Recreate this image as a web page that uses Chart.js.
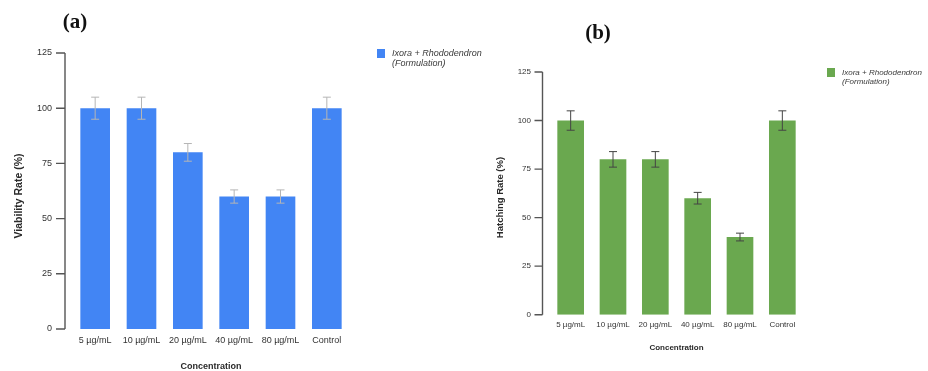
<!DOCTYPE html>
<html>
<head>
<meta charset="utf-8">
<script src="https://cdn.jsdelivr.net/npm/chart.js@4.4.1/dist/chart.umd.min.js"></script>
<style>
  html, body { margin: 0; padding: 0; background: #fff; }
  #wrap { position: relative; width: 928px; height: 371px; overflow: hidden; }
  canvas { position: absolute; top: 0; }
</style>
</head>
<body>
<div id="wrap">
  <canvas id="chartA" width="500" height="371" style="left:0"></canvas>
  <canvas id="chartB" width="458" height="371" style="left:470px"></canvas>
</div>
<script>
// ===== Data =====
const categories = ['5 µg/mL', '10 µg/mL', '20 µg/mL', '40 µg/mL', '80 µg/mL', 'Control'];
const viability = [100, 100, 80, 60, 60, 100];
const viabilityErr = [5, 5, 4, 3, 3, 5];
const hatching = [100, 80, 80, 60, 40, 100];
const hatchingErr = [5, 4, 4, 3, 2, 5];
const yTicks = [0, 25, 50, 75, 100, 125];
const legendLines = ['Ixora + Rhododendron', '(Formulation)'];

// axis line, tick marks, error bars, panel titles, legend
const decor = {
  id: 'decor',
  afterDatasetsDraw(chart, args, o) {
    const { ctx, chartArea } = chart;
    const y = chart.scales.y;
    const meta = chart.getDatasetMeta(0);
    const data = chart.data.datasets[0].data;
    ctx.save();

    // error bars
    ctx.strokeStyle = o.errColor;
    ctx.lineWidth = 1;
    meta.data.forEach((bar, i) => {
      const yt = y.getPixelForValue(data[i] + o.err[i]);
      const yb = y.getPixelForValue(data[i] - o.err[i]);
      ctx.beginPath();
      ctx.moveTo(bar.x, yt); ctx.lineTo(bar.x, yb);
      ctx.moveTo(bar.x - o.cap, yt); ctx.lineTo(bar.x + o.cap, yt);
      ctx.moveTo(bar.x - o.cap, yb); ctx.lineTo(bar.x + o.cap, yb);
      ctx.stroke();
    });

    // y axis line, set off from the plot
    const ax = chartArea.left - o.gap;
    ctx.strokeStyle = '#555';
    ctx.lineWidth = 1.4;
    ctx.beginPath();
    ctx.moveTo(ax, y.getPixelForValue(y.max));
    ctx.lineTo(ax, y.getPixelForValue(y.min));
    y.ticks.forEach(t => {
      const py = y.getPixelForValue(t.value);
      ctx.moveTo(ax - o.tick, py);
      ctx.lineTo(ax, py);
    });
    ctx.stroke();

    // panel label
    ctx.fillStyle = '#111';
    ctx.textAlign = 'center';
    ctx.textBaseline = 'middle';
    ctx.font = 'bold ' + o.panelSize + 'px "Liberation Serif"';
    ctx.fillText(o.panel, o.panelX, o.panelY);

    // axis titles
    ctx.fillStyle = '#2a2a2a';
    ctx.font = 'bold ' + o.fs + 'px "Liberation Sans"';
    ctx.fillText('Concentration', (chartArea.left + chartArea.right) / 2, o.xTitleY);
    ctx.save();
    ctx.translate(o.yTitleX, o.yTitleY);
    ctx.rotate(-Math.PI / 2);
    ctx.font = 'bold ' + o.yTitleSize + 'px "Liberation Sans"';
    ctx.fillText(o.yTitle, 0, 0);
    ctx.restore();

    // legend
    ctx.fillStyle = chart.data.datasets[0].backgroundColor;
    ctx.fillRect(o.legX, o.legY, o.legBox, o.legBox + 1);
    ctx.fillStyle = '#3a3a3a';
    ctx.textAlign = 'left';
    ctx.font = 'italic ' + o.fs + 'px "Liberation Sans"';
    legendLines.forEach((t, i) => {
      ctx.fillText(t, o.legX + o.legBox + 7, o.legY + 4.5 + i * o.fs * 1.1);
    });
    ctx.restore();
  }
};

function makeChart(id, values, color, pad, yWidth, xHeight, fs, tickPad, xPad, barPct, deco) {
  return new Chart(document.getElementById(id).getContext('2d'), {
    type: 'bar',
    data: {
      labels: categories,
      datasets: [{
        label: legendLines.join(' '),
        data: values,
        backgroundColor: color,
        categoryPercentage: 1,
        barPercentage: barPct
      }]
    },
    options: {
      responsive: false,
      animation: false,
      layout: { padding: pad },
      plugins: {
        legend: { display: false },
        tooltip: { enabled: false },
        decor: deco
      },
      scales: {
        x: {
          grid: { display: false, drawTicks: false },
          border: { display: false },
          ticks: { color: '#333', font: { family: 'Liberation Sans', size: fs }, padding: xPad, maxRotation: 0 },
          afterFit: s => { s.height = xHeight; }
        },
        y: {
          min: 0,
          max: 125,
          grid: { display: false, drawTicks: false },
          border: { display: false },
          ticks: { color: '#333', font: { family: 'Liberation Sans', size: fs }, padding: tickPad },
          afterBuildTicks: s => { s.ticks = yTicks.map(v => ({ value: v })); },
          afterFit: s => { s.width = yWidth; }
        }
      }
    },
    plugins: [decor]
  });
}

// ===== (a) Viability =====
makeChart('chartA', viability, '#4285F4',
  { left: 0, top: 53, right: 150, bottom: 0 }, 72, 42, 9, 20, 6, 0.64,
  { err: viabilityErr, errColor: '#b5b5b5', cap: 4, gap: 7, tick: 9,
    panel: '(a)', panelX: 75, panelY: 23, panelSize: 21,
    yTitle: 'Viability Rate (%)', yTitleSize: 10.5, yTitleX: 19, yTitleY: 196, xTitleY: 366.5,
    fs: 9, legX: 377, legY: 49, legBox: 8 });

// ===== (b) Hatching =====
makeChart('chartB', hatching, '#6aa84f',
  { left: 0, top: 72, right: 124.5, bottom: 0 }, 79.5, 56.3, 8, 18.5, 5.5, 0.63,
  { err: hatchingErr, errColor: '#444', cap: 4, gap: 7, tick: 8,
    panel: '(b)', panelX: 128, panelY: 34, panelSize: 21,
    yTitle: 'Hatching Rate (%)', yTitleSize: 9.5, yTitleX: 30, yTitleY: 197.5, xTitleY: 347.5,
    fs: 8, legX: 357, legY: 68, legBox: 8 });
</script>
</body>
</html>
